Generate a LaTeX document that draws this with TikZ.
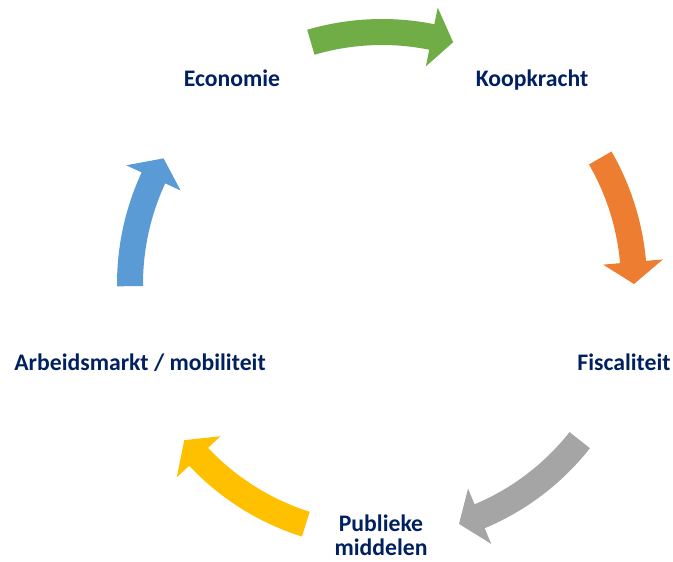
\documentclass[tikz,border=0pt]{standalone}
\usepackage{fontspec}
\setmainfont{Carlito}
\usetikzlibrary{calc}
\definecolor{txt}{HTML}{002060}
\definecolor{agreen}{HTML}{70AD47}
\definecolor{aorange}{HTML}{ED7D31}
\definecolor{agray}{HTML}{A5A5A5}
\definecolor{ayellow}{HTML}{FFC000}
\definecolor{ablue}{HTML}{5B9BD5}
% #1 colour, #2 tail angle, #3 tip angle (clockwise arrow)
\newcommand\cyclearrow[3]{%
  \fill[#1] ($(C)+(#2:265)$) arc[start angle=#2, end angle={#3+5}, radius=265]
    -- ($(C)+({#3+5}:282)$) -- ($(C)+(#3:252)$) -- ($(C)+({#3+5}:222)$)
    -- ($(C)+({#3+5}:239)$) arc[start angle={#3+5}, end angle=#2, radius=239] -- cycle;}
\begin{document}
\begin{tikzpicture}[x=1pt,y=1pt,
  lbl/.style={font=\bfseries\fontsize{23.7}{24.5}\selectfont, text=txt, align=center, inner sep=0pt, anchor=base}]
\useasboundingbox (0,0) rectangle (673,562);
\coordinate (C) at (382,278);
\cyclearrow{agreen}{106.4}{73.6}
\cyclearrow{aorange}{30}{0}
\cyclearrow{agray}{-38.3}{-72.2}
\cyclearrow{ayellow}{-107.6}{-141.7}
\cyclearrow{ablue}{180.5}{150.1}
\node[lbl] (eco) at (232,{562-87}) {Economie};
\node[lbl] (koop) at (532,{562-87}) {Koopkracht};
\node[lbl] (fisc) at (624,{562-371}) {Fiscaliteit};
\node[lbl] (pub) at (381,{562-532}) {Publieke};
\node[lbl] (mid) at (381,{562-555.5}) {middelen};
\node[lbl] (arb) at (140,{562-371}) {Arbeidsmarkt / mobiliteit};
\end{tikzpicture}
\end{document}
